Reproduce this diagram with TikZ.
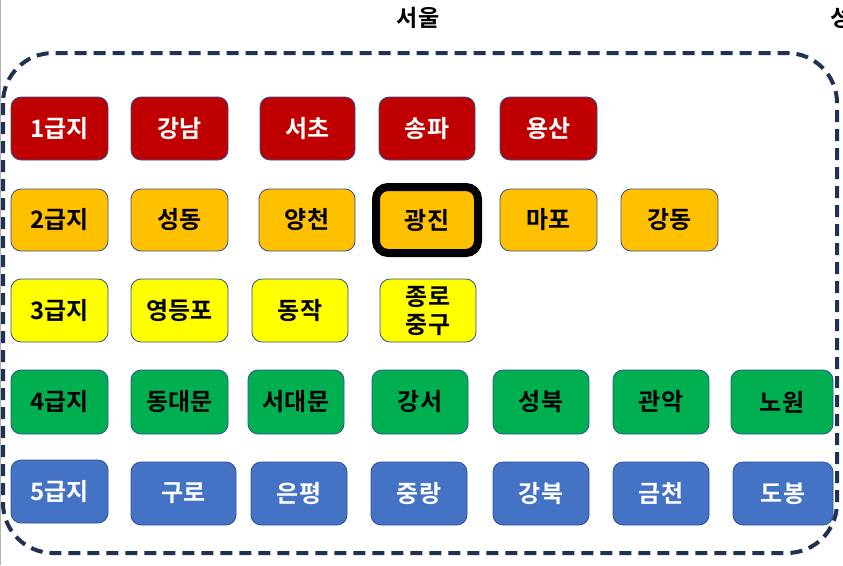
\documentclass[tikz,border=0pt]{standalone}
\usepackage{fontspec}
\setmainfont{Noto Sans CJK KR}[BoldFont={* Bold}]
\definecolor{cred}{HTML}{C00000}
\definecolor{corange}{HTML}{FFC000}
\definecolor{cyellow}{HTML}{FFFF00}
\definecolor{cgreen}{HTML}{00B050}
\definecolor{cblue}{HTML}{4472C4}
\definecolor{cedge}{HTML}{2F528F}
\definecolor{cnavy}{HTML}{1F3251}
\tikzset{
  gbox/.style={draw=cedge, line width=0.8pt, rounded corners=10pt, minimum width=97pt, minimum height=63pt, inner sep=0pt, align=center, font=\fontsize{24}{26}\selectfont\bfseries},
  rbox/.style={gbox, fill=cred, text=white},
  obox/.style={gbox, fill=corange, text=black},
  ybox/.style={gbox, fill=cyellow, text=black},
  grbox/.style={gbox, fill=cgreen, text=black},
  bbox/.style={gbox, fill=cblue, text=white},
  titletext/.style={font=\fontsize{23}{25}\selectfont\bfseries, text=black},
}
\begin{document}
\begin{tikzpicture}[x=1pt,y=-1pt]
\useasboundingbox (0,0) rectangle (843,565);
\fill[white] (0,0) rectangle (843,565);
\draw[gray!60, line width=1pt] (0.5,0) -- (0.5,565);
\node[titletext] (title) at (418,18) {서울};
\node[titletext, anchor=west] (title2) at (827,18) {성};
\draw[cnavy, line width=4pt, dash pattern=on 12pt off 7pt, rounded corners=50pt] (3,53) rectangle (837,553);
% row 1
\node[rbox] (g1) at (59.5,128.5) {1급지};
\node[rbox] (r11) at (179.5,128.5) {강남};
\node[rbox, minimum width=95pt] (r12) at (307.5,128.5) {서초};
\node[rbox, minimum width=96pt] (r13) at (427,128.5) {송파};
\node[rbox] (r14) at (548.5,128.5) {용산};
% row 2
\node[obox, minimum height=62pt] (g2) at (59.5,220) {2급지};
\node[obox, minimum height=62pt] (r21) at (179.5,220) {성동};
\node[obox, minimum height=62pt, minimum width=96pt] (r22) at (307,220) {양천};
\node[obox, draw=black, line width=8pt, minimum width=102pt, minimum height=66pt, rounded corners=12pt] (r23) at (427,220) {광진};
\node[obox, minimum height=62pt] (r24) at (548.5,220) {마포};
\node[obox, minimum height=62pt] (r25) at (669.5,220) {강동};
% row 3
\node[ybox] (g3) at (59.5,310.5) {3급지};
\node[ybox] (r31) at (179.5,310.5) {영등포};
\node[ybox, minimum width=96pt] (r32) at (300,310.5) {동작};
\node[ybox, minimum width=96pt, font=\fontsize{24}{28}\selectfont\bfseries] (r33) at (428,310.5) {종로\\중구};
% row 4
\node[grbox, minimum height=64pt] (g4) at (59.5,402) {4급지};
\node[grbox, minimum height=64pt] (r41) at (179.5,402) {동대문};
\node[grbox, minimum height=64pt, minimum width=96pt] (r42) at (296,402) {서대문};
\node[grbox, minimum height=64pt, minimum width=96pt] (r43) at (420,402) {강서};
\node[grbox, minimum height=64pt, minimum width=96pt] (r44) at (541,402) {성북};
\node[grbox, minimum height=64pt, minimum width=96pt] (r45) at (661,402) {관악};
\node[grbox, minimum height=64pt, minimum width=102pt] (r46) at (782,402) {노원};
% row 5
\node[bbox] (g5) at (59.5,491.5) {5급지};
\node[bbox, minimum width=105pt] (r51) at (183.5,493.5) {구로};
\node[bbox, minimum width=96pt] (r52) at (299,493.5) {은평};
\node[bbox, minimum width=96pt] (r53) at (419,493.5) {중랑};
\node[bbox, minimum width=96pt] (r54) at (541,493.5) {강북};
\node[bbox, minimum width=96pt] (r55) at (661,493.5) {금천};
\node[bbox, minimum width=100pt] (r56) at (783,493.5) {도봉};
\end{tikzpicture}
\end{document}
